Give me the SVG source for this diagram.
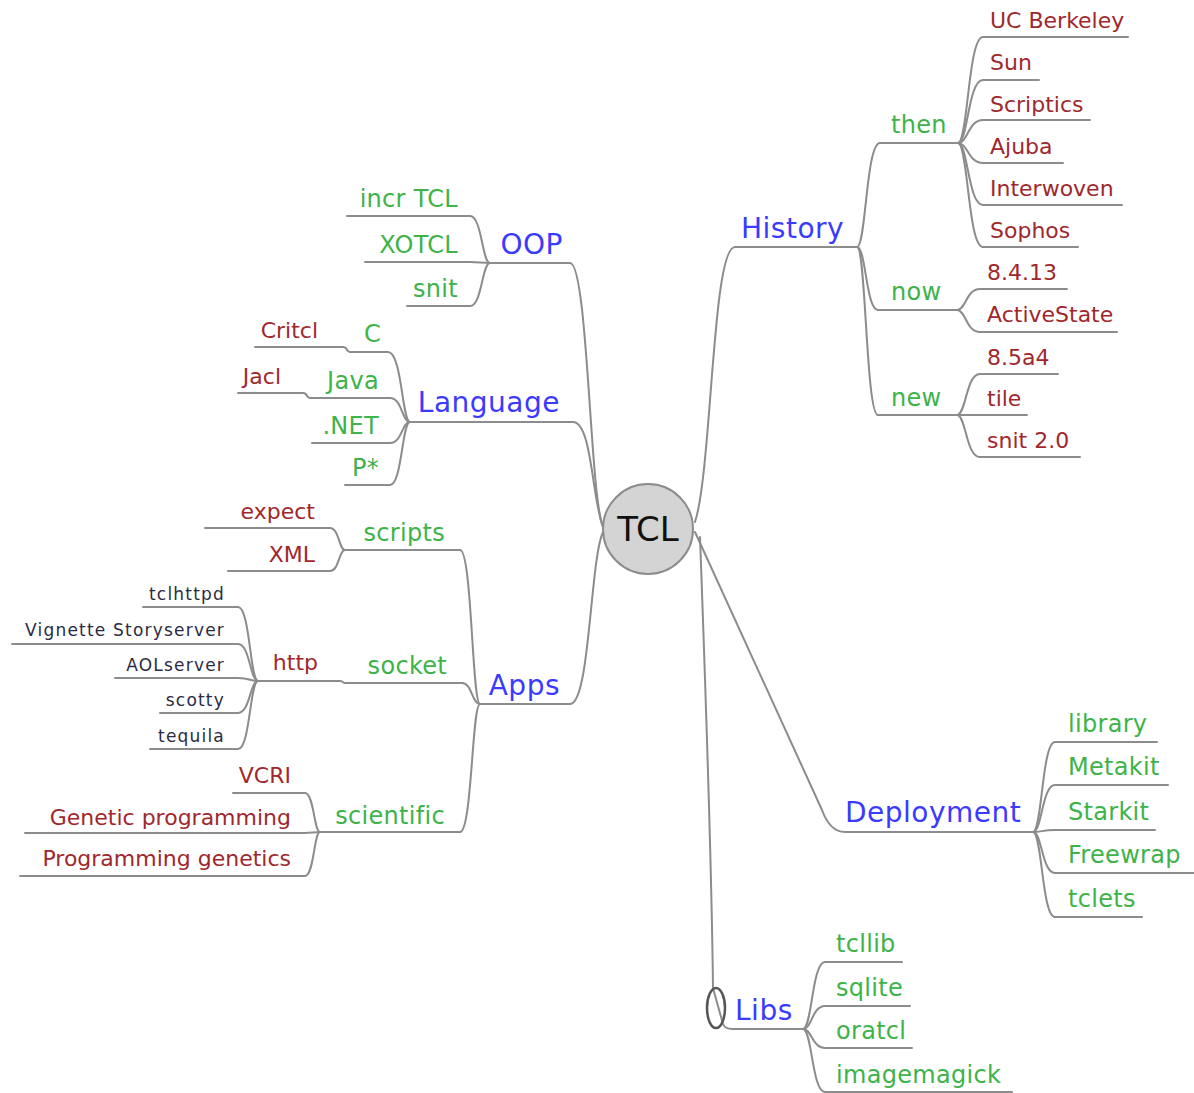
<svg xmlns="http://www.w3.org/2000/svg" width="1194" height="1093" viewBox="0 0 1194 1093">
<style>
.ln{fill:none;stroke:#8c8c8c;stroke-width:2;stroke-linecap:round}
text{font-family:"DejaVu Sans","Liberation Sans",sans-serif}
.main{font-size:28px;fill:#3b3bff;letter-spacing:0.5px}
.l2{font-size:24px;fill:#3db34a;letter-spacing:0.3px}
.l3{font-size:22px;fill:#a0282d}
.l4{font-size:17px;fill:#2b2b45;letter-spacing:1.2px}
.e{text-anchor:end}
</style>
<rect width="1194" height="1093" fill="#ffffff"/>
<g id="connectors">
<path class="ln" d="M695 522 C712 470 712 247 735 247"/>
<path class="ln" d="M603 526 C590 500 588 263 570 263"/>
<path class="ln" d="M603 527 C592 500 592 422 573 422"/>
<path class="ln" d="M603 532 C590 560 590 704 570 704"/>
<path class="ln" d="M695 532 L822 810 Q830 832 845 832"/>
<path class="ln" d="M700 537 C706 700 712 900 713 988 L723 1024 Q725 1029 732 1029"/>
<path class="ln" d="M857 247 C866 247 866 143 880 143"/>
<path class="ln" d="M857 247 C866 247 866 310 878 310"/>
<path class="ln" d="M857 247 C866 247 866 415 878 415"/>
<path class="ln" d="M958 143 C968 143 968 37 983 37"/>
<path class="ln" d="M958 143 C968 143 968 80 983 80"/>
<path class="ln" d="M958 143 C968 143 968 120 983 120"/>
<path class="ln" d="M958 143 C968 143 968 163 983 163"/>
<path class="ln" d="M958 143 C968 143 968 205 983 205"/>
<path class="ln" d="M958 143 C968 143 968 247 983 247"/>
<path class="ln" d="M957 310 C966 310 966 289 980 289"/>
<path class="ln" d="M957 310 C966 310 966 332 980 332"/>
<path class="ln" d="M957 415 C966 415 966 374 980 374"/>
<path class="ln" d="M957 415 L980 415"/>
<path class="ln" d="M957 415 C966 415 966 457 980 457"/>
<path class="ln" d="M1033 832 C1042 832 1042 742 1055 742"/>
<path class="ln" d="M1033 832 C1042 832 1042 785 1055 785"/>
<path class="ln" d="M1033 832 C1042 832 1042 830 1055 830"/>
<path class="ln" d="M1033 832 C1042 832 1042 873 1055 873"/>
<path class="ln" d="M1033 832 C1042 832 1042 917 1055 917"/>
<path class="ln" d="M803 1029 C812 1029 812 962 825 962"/>
<path class="ln" d="M803 1029 C812 1029 812 1006 825 1006"/>
<path class="ln" d="M803 1029 C812 1029 812 1048 825 1048"/>
<path class="ln" d="M803 1029 C812 1029 812 1092 825 1092"/>
<path class="ln" d="M490 263 C482 263 482 216 470 216"/>
<path class="ln" d="M490 263 L470 262"/>
<path class="ln" d="M490 263 C482 263 482 306 470 306"/>
<path class="ln" d="M410 422 C402 422 402 352 388 352"/>
<path class="ln" d="M410 422 C402 422 402 398 390 398"/>
<path class="ln" d="M410 422 C402 422 402 443 390 443"/>
<path class="ln" d="M410 422 C402 422 402 485 390 485"/>
<path class="ln" d="M350 352 C346 352 348 347 343 347"/>
<path class="ln" d="M310 398 C306 398 308 393 303 393"/>
<path class="ln" d="M480 704 C472 704 472 550 460 550"/>
<path class="ln" d="M480 704 C472 704 472 683 462 683"/>
<path class="ln" d="M480 704 C472 704 472 832 460 832"/>
<path class="ln" d="M345 550 C339 550 339 528 330 528"/>
<path class="ln" d="M345 550 C339 550 339 571 330 571"/>
<path class="ln" d="M345 683 C343 683 343 681 340 681"/>
<path class="ln" d="M258 681 C250 681 250 607 238 607"/>
<path class="ln" d="M258 681 C250 681 250 644 238 644"/>
<path class="ln" d="M258 681 C250 681 250 678 238 678"/>
<path class="ln" d="M258 681 C250 681 250 713 238 713"/>
<path class="ln" d="M258 681 C250 681 250 749 238 749"/>
<path class="ln" d="M320 832 C314 832 314 793 305 793"/>
<path class="ln" d="M320 832 L305 833"/>
<path class="ln" d="M320 832 C314 832 314 876 305 876"/>
</g>
<g id="TCL">
<circle cx="648" cy="529" r="45" fill="#d4d4d4" stroke="#8c8c8c" stroke-width="2"/>
<text x="648" y="541" font-size="34" fill="#111" text-anchor="middle">TCL</text>
</g>
<g id="History"><path class="ln" d="M735 247 H857"/><text class="main" x="741" y="238">History</text></g>
<g id="then"><path class="ln" d="M880 143 H958"/><text class="l2" x="891" y="133">then</text></g>
<g id="now"><path class="ln" d="M878 310 H957"/><text class="l2" x="891" y="300">now</text></g>
<g id="new"><path class="ln" d="M878 415 H957"/><text class="l2" x="891" y="406">new</text></g>
<g id="ucberkeley"><path class="ln" d="M983 37 H1128"/><text class="l3" x="990" y="28">UC Berkeley</text></g>
<g id="sun"><path class="ln" d="M983 80 H1039"/><text class="l3" x="990" y="70">Sun</text></g>
<g id="scriptics"><path class="ln" d="M983 120 H1090"/><text class="l3" x="990" y="112">Scriptics</text></g>
<g id="ajuba"><path class="ln" d="M983 163 H1063"/><text class="l3" x="990" y="154">Ajuba</text></g>
<g id="interwoven"><path class="ln" d="M983 205 H1122"/><text class="l3" x="990" y="196">Interwoven</text></g>
<g id="sophos"><path class="ln" d="M983 247 H1078"/><text class="l3" x="990" y="238">Sophos</text></g>
<g id="v8413"><path class="ln" d="M980 289 H1067"/><text class="l3" x="987" y="280">8.4.13</text></g>
<g id="activestate"><path class="ln" d="M980 332 H1117"/><text class="l3" x="987" y="322">ActiveState</text></g>
<g id="v85a4"><path class="ln" d="M980 374 H1058"/><text class="l3" x="987" y="365">8.5a4</text></g>
<g id="tile"><path class="ln" d="M980 415 H1027"/><text class="l3" x="987" y="406">tile</text></g>
<g id="snit20"><path class="ln" d="M980 457 H1080"/><text class="l3" x="987" y="448">snit 2.0</text></g>
<g id="Deployment"><path class="ln" d="M845 832 H1033"/><text class="main" x="845" y="822">Deployment</text></g>
<g id="library"><path class="ln" d="M1055 742 H1157"/><text class="l2" x="1068" y="732">library</text></g>
<g id="metakit"><path class="ln" d="M1055 785 H1168"/><text class="l2" x="1068" y="775">Metakit</text></g>
<g id="starkit"><path class="ln" d="M1055 830 H1155"/><text class="l2" x="1068" y="820">Starkit</text></g>
<g id="freewrap"><path class="ln" d="M1055 873 H1194"/><text class="l2" x="1068" y="863">Freewrap</text></g>
<g id="tclets"><path class="ln" d="M1055 917 H1142"/><text class="l2" x="1068" y="907">tclets</text></g>
<g id="Libs"><ellipse cx="716" cy="1008" rx="9" ry="20" fill="none" stroke="#555" stroke-width="2.5"/><path class="ln" d="M732 1029 H803"/><text class="main" x="735" y="1020">Libs</text></g>
<g id="tcllib"><path class="ln" d="M825 962 H902"/><text class="l2" x="836" y="952">tcllib</text></g>
<g id="sqlite"><path class="ln" d="M825 1006 H910"/><text class="l2" x="836" y="996">sqlite</text></g>
<g id="oratcl"><path class="ln" d="M825 1048 H912"/><text class="l2" x="836" y="1039">oratcl</text></g>
<g id="imagemagick"><path class="ln" d="M825 1092 H1012"/><text class="l2" x="836" y="1083">imagemagick</text></g>
<g id="OOP"><path class="ln" d="M490 263 H570"/><text class="main e" x="563" y="254">OOP</text></g>
<g id="incrtcl"><path class="ln" d="M347 216 H470"/><text class="l2 e" x="458" y="207">incr TCL</text></g>
<g id="xotcl"><path class="ln" d="M365 262 H470"/><text class="l2 e" x="458" y="253">XOTCL</text></g>
<g id="snit"><path class="ln" d="M407 306 H470"/><text class="l2 e" x="458" y="297">snit</text></g>
<g id="Language"><path class="ln" d="M410 422 H573"/><text class="main e" x="560" y="412">Language</text></g>
<g id="c"><path class="ln" d="M350 352 H388"/><text class="l2 e" x="381" y="342">C</text></g>
<g id="java"><path class="ln" d="M310 398 H390"/><text class="l2 e" x="379" y="389">Java</text></g>
<g id="net"><path class="ln" d="M312 443 H390"/><text class="l2 e" x="379" y="434">.NET</text></g>
<g id="pstar"><path class="ln" d="M345 485 H390"/><text class="l2 e" x="379" y="476">P*</text></g>
<g id="critcl"><path class="ln" d="M255 347 H343"/><text class="l3 e" x="318" y="338">Critcl</text></g>
<g id="jacl"><path class="ln" d="M238 393 H303"/><text class="l3 e" x="281" y="384">Jacl</text></g>
<g id="Apps"><path class="ln" d="M480 704 H570"/><text class="main e" x="560" y="695">Apps</text></g>
<g id="scripts"><path class="ln" d="M345 550 H460"/><text class="l2 e" x="445" y="541">scripts</text></g>
<g id="socket"><path class="ln" d="M345 683 H462"/><text class="l2 e" x="447" y="674">socket</text></g>
<g id="scientific"><path class="ln" d="M320 832 H460"/><text class="l2 e" x="445" y="824">scientific</text></g>
<g id="expect"><path class="ln" d="M205 528 H330"/><text class="l3 e" x="315" y="519">expect</text></g>
<g id="xml"><path class="ln" d="M228 571 H330"/><text class="l3 e" x="315" y="562">XML</text></g>
<g id="http"><path class="ln" d="M258 681 H340"/><text class="l3 e" x="318" y="670">http</text></g>
<g id="tclhttpd"><path class="ln" d="M143 607 H238"/><text class="l4 e" x="225" y="600">tclhttpd</text></g>
<g id="vignette"><path class="ln" d="M12 644 H238"/><text class="l4 e" x="225" y="636">Vignette Storyserver</text></g>
<g id="aolserver"><path class="ln" d="M115 678 H238"/><text class="l4 e" x="225" y="671">AOLserver</text></g>
<g id="scotty"><path class="ln" d="M160 713 H238"/><text class="l4 e" x="225" y="706">scotty</text></g>
<g id="tequila"><path class="ln" d="M150 749 H238"/><text class="l4 e" x="225" y="742">tequila</text></g>
<g id="vcri"><path class="ln" d="M233 793 H305"/><text class="l3 e" x="291" y="783">VCRI</text></g>
<g id="geneticprogramming"><path class="ln" d="M25 833 H305"/><text class="l3 e" x="291" y="825">Genetic programming</text></g>
<g id="programminggenetics"><path class="ln" d="M20 876 H305"/><text class="l3 e" x="291" y="866">Programming genetics</text></g>
</svg>
